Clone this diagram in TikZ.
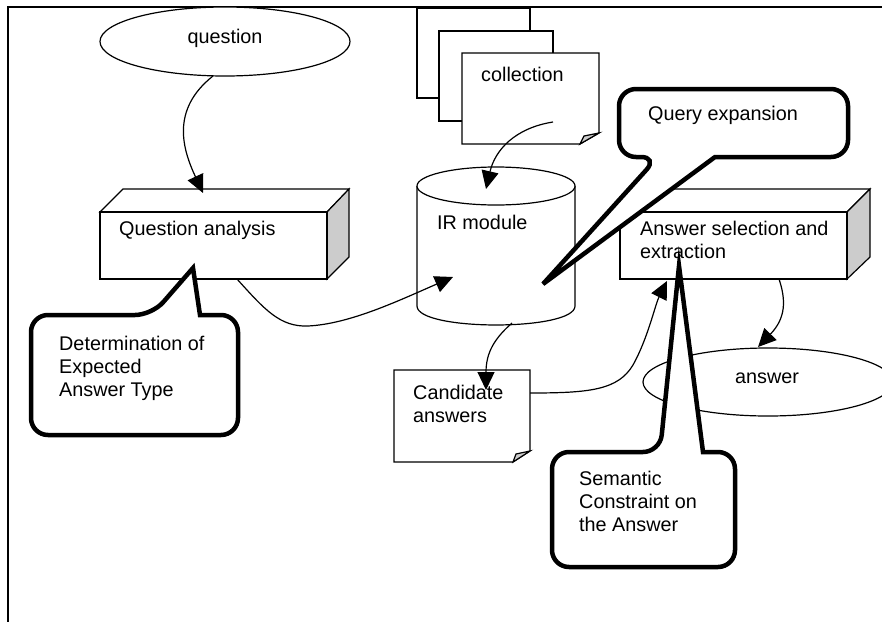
\documentclass[tikz,border=0pt]{standalone}
\usepackage{fontspec}
\setmainfont{Liberation Sans}
\usetikzlibrary{arrows.meta}
\begin{document}
\begin{tikzpicture}[x=1pt,y=-1pt,
  thinline/.style={line width=1.2pt},
  conn/.style={line width=1.2pt, -{Triangle[length=18pt,width=17pt]}},
  callout/.style={line width=4.5pt, fill=white, rounded corners=17pt},
  lbl/.style={inner sep=0pt, font=\fontsize{19.8}{23}\selectfont},
  mlbl/.style={lbl, align=left, anchor=north west},
  shadeface/.style={fill=black!20}
]
\useasboundingbox (0,0) rectangle (882,621);
% frame
\draw[line width=2pt] (8,630) -- (8,7) -- (890,7);

% question ellipse
\draw[thinline, fill=white] (225,41.5) ellipse [x radius=125, y radius=34.5];
\node[lbl, anchor=base] (question) at (225,43) {question};

% collection stack
\draw[thinline, fill=white] (417,8) rectangle (530,98);
\draw[thinline, fill=white] (439,31) rectangle (553,121);
\draw[thinline, fill=white] (462,53) -- (599,53) -- (599,133) -- (580,144) -- (462,144) -- cycle;
\draw[thinline, shadeface] (599,133) -- (584,136) -- (580,144) -- cycle;
\node[lbl, anchor=base west] (coll) at (481,81) {collection};

% IR module cylinder
\draw[thinline, fill=white] (417,186) -- (417,306) .. controls (417,331.3) and (575,331.3) .. (575,306) -- (575,186);
\draw[thinline, fill=white] (496,186) ellipse [x radius=79, y radius=19];
\node[lbl, anchor=base west] (ir) at (437,229) {IR module};

% Question analysis box
\draw[thinline, fill=white] (100,212) -- (123,189) -- (349,189) -- (327,212) -- cycle;
\draw[thinline, shadeface] (327,212) -- (349,189) -- (349,257) -- (327,279) -- cycle;
\draw[thinline, fill=white] (100,212) rectangle (327,279);
\node[lbl, anchor=base west] (qa) at (119,235) {Question analysis};

% Answer selection box
\draw[thinline, fill=white] (620,212) -- (643,189) -- (870,189) -- (847,212) -- cycle;
\draw[thinline, shadeface] (847,212) -- (870,189) -- (870,257) -- (847,279) -- cycle;
\draw[thinline, fill=white] (620,212) rectangle (847,279);
\node[mlbl] (as) at (640,221) {Answer selection and\\extraction};

% Candidate answers note
\draw[thinline, fill=white] (394,370) -- (530,370) -- (530,451) -- (513,462) -- (394,462) -- cycle;
\draw[thinline, shadeface] (530,451) -- (516,454) -- (513,462) -- cycle;
\node[mlbl] (cand) at (413,384.5) {Candidate\\answers};

% answer ellipse
\draw[thinline, fill=white] (768,382) ellipse [x radius=125, y radius=34];
\node[lbl, anchor=base] (ans) at (767,383) {answer};

% connector end points
\coordinate (q-out) at (213,76);
\coordinate (qa-in) at (203,193);
\coordinate (coll-out) at (553,122);
\coordinate (ir-in1) at (486,189);
\coordinate (qa-out) at (237,279);
\coordinate (ir-in2) at (453,277);
\coordinate (ir-out) at (512,323);
\coordinate (cand-in) at (486,390);
\coordinate (cand-out) at (530,393);
\coordinate (as-in) at (667,281);
\coordinate (as-out) at (779,279);
\coordinate (ans-in) at (758,347);

% connectors
\draw[conn] (q-out) .. controls (170,110) and (183,150) .. (qa-in);
\draw[conn] (coll-out) .. controls (515,128) and (495,150) .. (ir-in1);
\draw[conn] (qa-out) .. controls (265,310) and (280,327) .. (308,326) .. controls (350,324) and (400,300) .. (ir-in2);
\draw[conn] (ir-out) .. controls (495,338) and (486,352) .. (cand-in);
\draw[conn] (cand-out) .. controls (590,393) and (618,390) .. (633,365) .. controls (648,338) and (655,305) .. (as-in);
\draw[conn] (as-out) .. controls (786,300) and (786,318) .. (ans-in);

% callouts
\draw[callout] (715,157) -- (848,157) -- (848,89) -- (619,89) -- (619,157) -- (658,157) [sharp corners] -- (543,284) -- cycle;
\node[lbl, anchor=base west] (qexp) at (648,120.5) {Query expansion};

\draw[callout] (200,315) -- (238,315) -- (238,435) -- (31,435) -- (31,315) -- (152,315) [sharp corners] -- (193,268) -- cycle;
\node[mlbl] (det) at (59,335.6) {Determination of\\Expected\\Answer Type};

\draw[callout] (703,452) -- (735,452) -- (735,567) -- (552,567) -- (552,452) -- (660,452) [sharp corners] -- (679,266) -- cycle;
\node[mlbl] (sem) at (579,471) {Semantic\\Constraint on\\the Answer};
\end{tikzpicture}
\end{document}
